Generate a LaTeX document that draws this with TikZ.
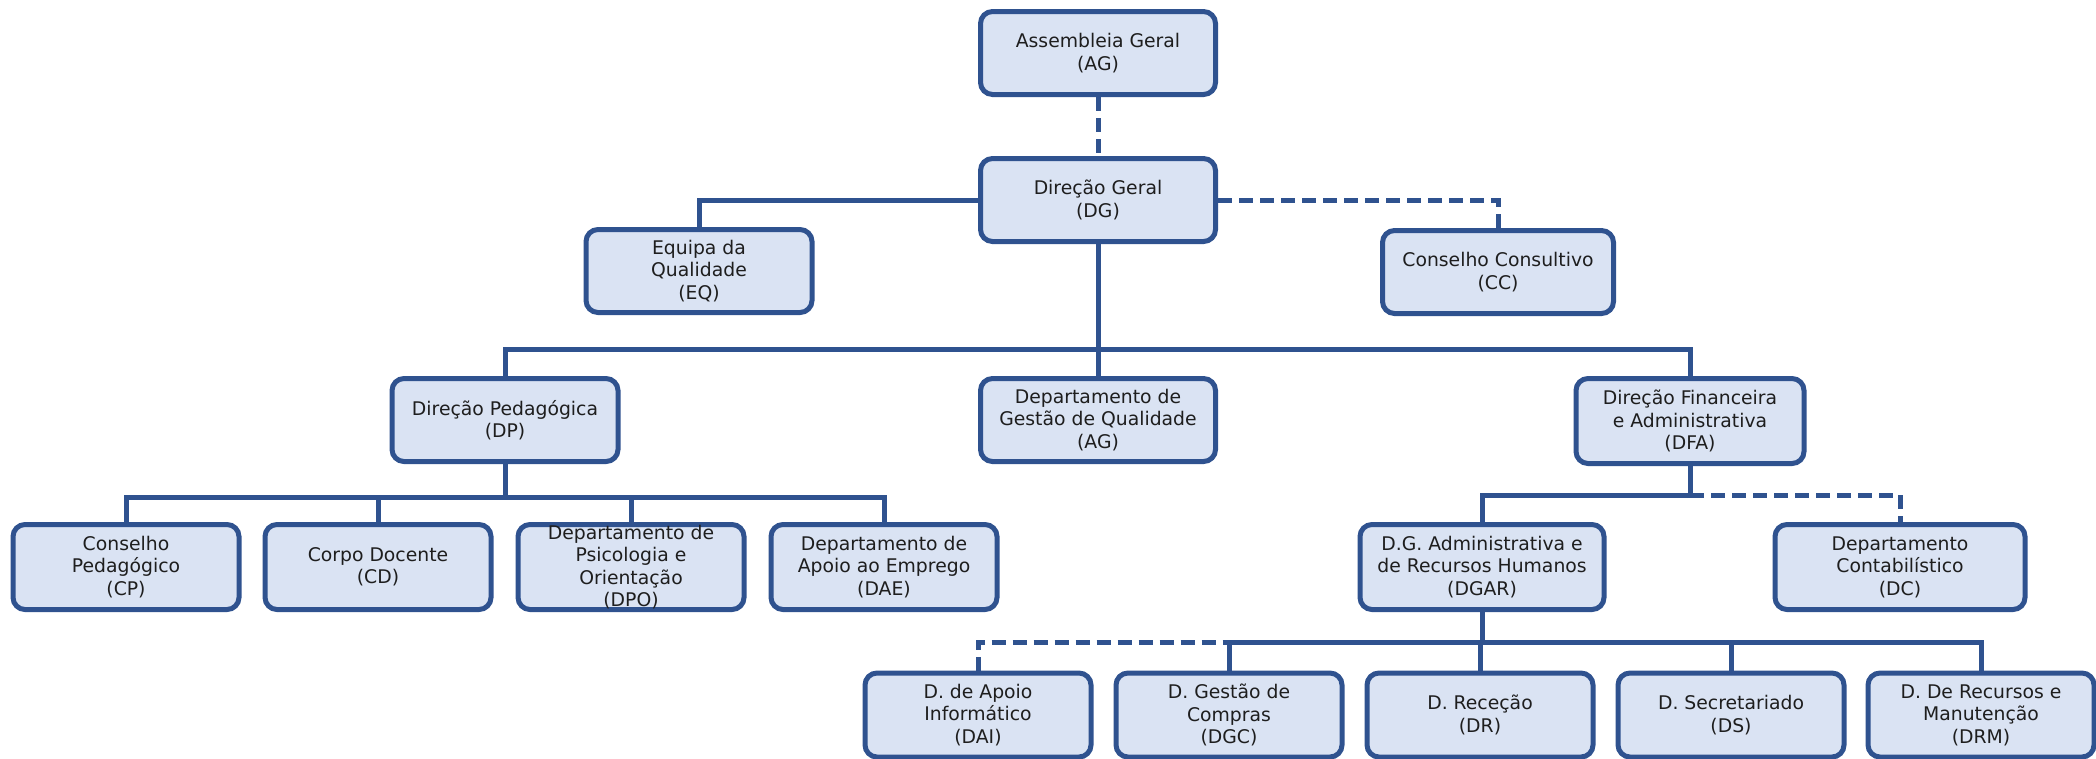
\documentclass[tikz,border=0pt]{standalone}
\usepackage{fontspec}
\setmainfont{DejaVu Sans}
\definecolor{bord}{RGB}{47,82,143}
\definecolor{boxfill}{RGB}{218,227,243}
\definecolor{txt}{RGB}{30,30,30}
\begin{document}
\begin{tikzpicture}[x=1pt,y=-1pt,
  box/.style={draw=bord, fill=boxfill, line width=5pt, rounded corners=12pt,
    minimum height=83pt, align=center, text=txt,
    font=\fontsize{18.8}{22.5}\selectfont, inner sep=0pt},
  wbox/.style={box, minimum width=226pt},
  link/.style={draw=bord, line width=5pt},
  dlink/.style={link, dash pattern=on 14pt off 7pt}]
\useasboundingbox (0,0) rectangle (2096,758);
% top
\node[box, minimum width=235pt] (AG) at (1098,53) {Assembleia Geral\\(AG)};
\node[box, minimum width=235pt] (DG) at (1098,200) {Direção Geral\\(DG)};
\node[wbox] (EQ) at (699,271) {Equipa da\\Qualidade\\(EQ)};
\node[box, minimum width=231pt] (CC) at (1498,272) {Conselho Consultivo\\(CC)};
% level 2
\node[wbox] (DP) at (505,420) {Direção Pedagógica\\(DP)};
\node[box, minimum width=235pt] (DGQ) at (1098,420) {Departamento de\\Gestão de Qualidade\\(AG)};
\node[box, minimum width=228pt, minimum height=85pt] (DFA) at (1690,421) {Direção Financeira\\e Administrativa\\(DFA)};
% level 3 left
\node[wbox, minimum height=85pt] (CP) at (126,567) {Conselho\\Pedagógico\\(CP)};
\node[wbox, minimum height=85pt] (CD) at (378,567) {Corpo Docente\\(CD)};
\node[wbox, minimum height=85pt] (DPO) at (631,567) {Departamento de\\Psicologia e\\Orientação\\(DPO)};
\node[wbox, minimum height=85pt] (DAE) at (884,567) {Departamento de\\Apoio ao Emprego\\(DAE)};
% level 3 right
\node[box, minimum width=244pt, minimum height=85pt] (DGAR) at (1482,567) {D.G. Administrativa e\\de Recursos Humanos\\(DGAR)};
\node[box, minimum width=250pt, minimum height=85pt] (DC) at (1900,567) {Departamento\\Contabilístico\\(DC)};
% level 4
\node[wbox, minimum height=84pt] (DAI) at (978,715) {D. de Apoio\\Informático\\(DAI)};
\node[wbox, minimum height=84pt] (DGC) at (1229,715) {D. Gestão de\\Compras\\(DGC)};
\node[wbox, minimum height=84pt] (DR) at (1480,715) {D. Receção\\(DR)};
\node[wbox, minimum height=84pt] (DS) at (1731,715) {D. Secretariado\\(DS)};
\node[wbox, minimum height=84pt] (DRM) at (1981,715) {D. De Recursos e\\Manutenção\\(DRM)};
% bus coordinates
\coordinate (b1) at (1098,349);
\coordinate (b2) at (505,497);
\coordinate (b3) at (1690,495);
\coordinate (b4) at (1482,642);
% connectors
\draw[dlink] (AG.south) -- (DG.north);
\draw[link] (DG.west) -| (EQ.north);
\draw[dlink] (DG.east) -| (CC.north);
\draw[link] (DG.south) -- (DGQ.north);
\draw[link] (DP.north) |- (b1) -| (DFA.north);
\draw[link] (DP.south) -- (b2);
\draw[link] (CP.north) |- (DAE.north |- b2) -- (DAE.north);
\draw[link] (CD.north) -- (CD.north |- b2);
\draw[link] (DPO.north) -- (DPO.north |- b2);
\draw[link] (DFA.south) -- (b3) -| (DGAR.north);
\draw[dlink] (b3) -| (DC.north);
\draw[link] (DGAR.south) -- (b4);
\draw[dlink] (DAI.north) |- (DGC.north |- b4);
\draw[link] (DGC.north) |- (DRM.north |- b4) -- (DRM.north);
\draw[link] (DR.north) -- (DR.north |- b4);
\draw[link] (DS.north) -- (DS.north |- b4);
\end{tikzpicture}
\end{document}
